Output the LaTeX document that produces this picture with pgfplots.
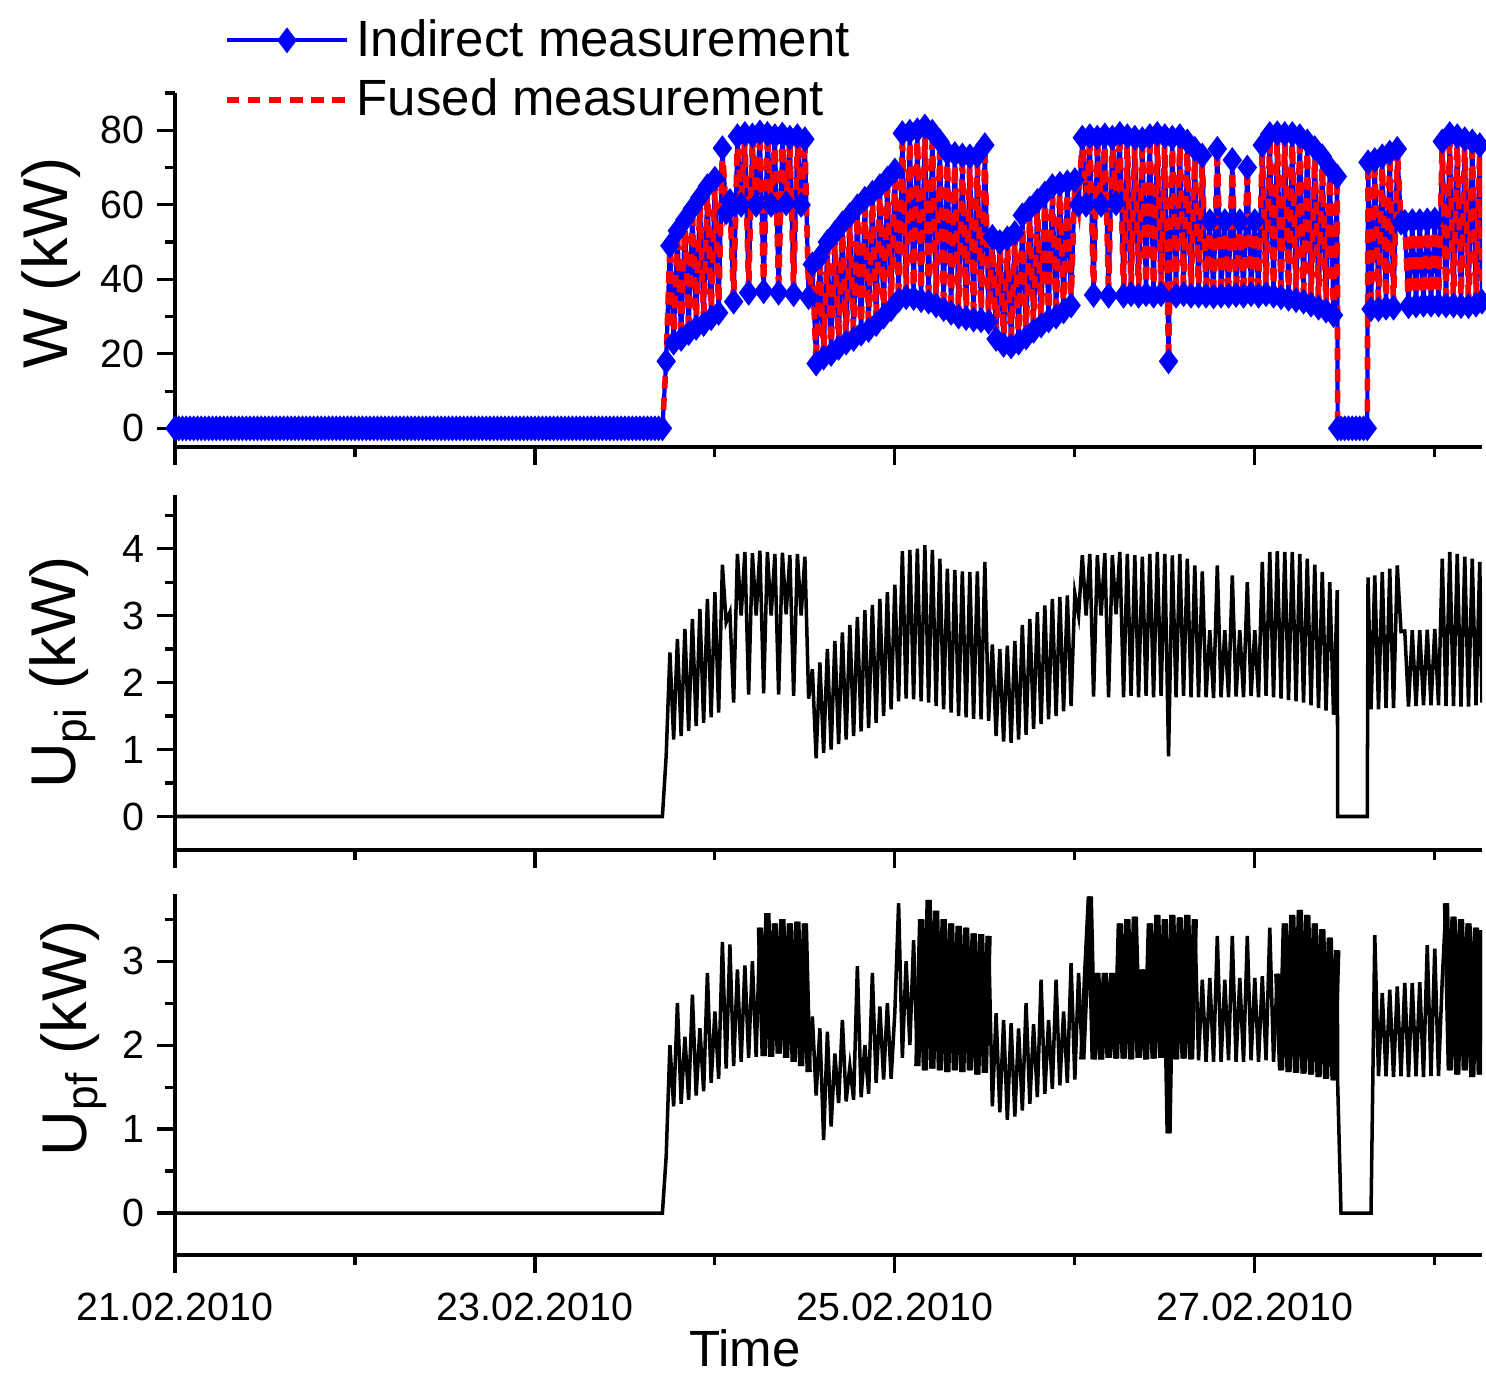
\documentclass[border=0pt]{standalone}
\usepackage{fontspec}
\setmainfont{Liberation Sans}
\usepackage{pgfplots}
\usepackage{pgfplotstable}
\pgfplotsset{compat=1.18}

\pgfplotstableread[row sep=\\]{
t W P Q\\
0 0 0 0\\ 0.5 0 0 0\\ 1 0 0 0\\ 1.5 0 0 0\\ 2 0 0 0\\ 2.5 0 0 0\\ 3 0 0 0\\ 3.5 0 0 0\\ 4 0 0 0\\ 4.5 0 0 0\\
5 0 0 0\\ 5.5 0 0 0\\ 6 0 0 0\\ 6.5 0 0 0\\ 7 0 0 0\\ 7.5 0 0 0\\ 8 0 0 0\\ 8.5 0 0 0\\ 9 0 0 0\\ 9.5 0 0 0\\
10 0 0 0\\ 10.5 0 0 0\\ 11 0 0 0\\ 11.5 0 0 0\\ 12 0 0 0\\ 12.5 0 0 0\\ 13 0 0 0\\ 13.5 0 0 0\\ 14 0 0 0\\ 14.5 0 0 0\\
15 0 0 0\\ 15.5 0 0 0\\ 16 0 0 0\\ 16.5 0 0 0\\ 17 0 0 0\\ 17.5 0 0 0\\ 18 0 0 0\\ 18.5 0 0 0\\ 19 0 0 0\\ 19.5 0 0 0\\
20 0 0 0\\ 20.5 0 0 0\\ 21 0 0 0\\ 21.5 0 0 0\\ 22 0 0 0\\ 22.5 0 0 0\\ 23 0 0 0\\ 23.5 0 0 0\\ 24 0 0 0\\ 24.5 0 0 0\\
25 0 0 0\\ 25.5 0 0 0\\ 26 0 0 0\\ 26.5 0 0 0\\ 27 0 0 0\\ 27.5 0 0 0\\ 28 0 0 0\\ 28.5 0 0 0\\ 29 0 0 0\\ 29.5 0 0 0\\
30 0 0 0\\ 30.5 0 0 0\\ 31 0 0 0\\ 31.5 0 0 0\\ 32 0 0 0\\ 32.5 0 0 0\\ 33 0 0 0\\ 33.5 0 0 0\\ 34 0 0 0\\ 34.5 0 0 0\\
35 0 0 0\\ 35.5 0 0 0\\ 36 0 0 0\\ 36.5 0 0 0\\ 37 0 0 0\\ 37.5 0 0 0\\ 38 0 0 0\\ 38.5 0 0 0\\ 39 0 0 0\\ 39.5 0 0 0\\
40 0 0 0\\ 40.5 0 0 0\\ 41 0 0 0\\ 41.5 0 0 0\\ 42 0 0 0\\ 42.5 0 0 0\\ 43 0 0 0\\ 43.5 0 0 0\\ 44 0 0 0\\ 44.5 0 0 0\\
45 0 0 0\\ 45.5 0 0 0\\ 46 0 0 0\\ 46.5 0 0 0\\ 47 0 0 0\\ 47.5 0 0 0\\ 48 0 0 0\\ 48.5 0 0 0\\ 49 0 0 0\\ 49.5 0 0 0\\
50 0 0 0\\ 50.5 0 0 0\\ 51 0 0 0\\ 51.5 0 0 0\\ 52 0 0 0\\ 52.5 0 0 0\\ 53 0 0 0\\ 53.5 0 0 0\\ 54 0 0 0\\ 54.5 0 0 0\\
55 0 0 0\\ 55.5 0 0 0\\ 56 0 0 0\\ 56.5 0 0 0\\ 57 0 0 0\\ 57.5 0 0 0\\ 58 0 0 0\\ 58.5 0 0 0\\ 59 0 0 0\\ 59.5 0 0 0\\
60 0 0 0\\ 60.5 0 0 0\\ 61 0 0 0\\ 61.5 0 0 0\\ 62 0 0 0\\ 62.5 0 0 0\\ 63 0 0 0\\ 63.5 0 0 0\\ 64 0 0 0\\ 64.5 0 0 0\\
65 0 0 0\\
65.5 18 0.9 0.67\\ 66 49 2.45 2.0\\ 66.5 23 1.15 1.27\\ 67 53 2.65 2.5\\ 67.5 24 1.2 1.3\\
68 56 2.8 2.1\\ 68.5 25.6 1.28 1.35\\ 69 59 2.95 2.6\\ 69.5 27 1.35 1.4\\ 70 62 3.1 2.2\\
70.5 28 1.4 1.45\\ 71 65 3.25 2.86\\ 71.5 29.6 1.48 1.55\\ 72 67 3.35 2.4\\ 72.5 31 1.55 1.6\\
73 75.2 3.76 3.23\\ 73.5 58 2.9 1.72\\ 74 61 3.05 3.2\\ 74.5 34 1.7 1.75\\ 75 78.4 3.92 2.9\\
75.5 60 3.0 1.8\\ 76 79 3.95 2.95\\ 76.5 36.4 1.82 1.85\\ 77 78.6 3.93 3.0\\ 77.5 60 3.0 1.86\\
78 79.4 3.97 3.4\\ 78.5 36.8 1.84 1.87\\ 79 79 3.95 3.57\\ 79.5 60 3.0 1.86\\ 80 78.4 3.92 3.45\\
80.5 36.4 1.82 1.9\\ 81 78.8 3.94 3.5\\ 81.5 60.4 3.02 1.85\\ 82 78 3.9 3.45\\ 82.5 36 1.8 1.8\\
83 78.4 3.92 3.47\\ 83.5 60 3.0 1.75\\ 84 77.6 3.88 3.45\\ 84.5 35.2 1.76 1.68\\ 85 44 2.2 2.34\\
85.5 17.4 0.87 1.4\\ 86 46 2.3 2.2\\ 86.5 19 0.95 0.87\\ 87 50 2.5 2.16\\ 87.5 20 1.0 1.03\\
88 52.4 2.62 1.9\\ 88.5 21.6 1.08 1.31\\ 89 55 2.75 2.3\\ 89.5 23 1.15 1.33\\ 90 57.2 2.86 1.75\\
90.5 24 1.2 1.35\\ 91 59.6 2.98 2.94\\ 91.5 25.4 1.27 1.38\\ 92 61.6 3.08 2.0\\ 92.5 26.4 1.32 1.42\\
93 63.2 3.16 2.86\\ 93.5 28 1.4 1.55\\ 94 65 3.25 2.46\\ 94.5 30 1.5 1.59\\ 95 67 3.35 2.5\\
95.5 32 1.6 1.6\\ 96 69.2 3.46 2.4\\ 96.5 34.4 1.72 3.69\\ 97 79.2 3.96 1.85\\ 97.5 35.2 1.76 3.0\\
98 79.6 3.98 2.0\\ 98.5 35 1.75 3.25\\ 99 80 4.0 1.75\\ 99.5 34.4 1.72 3.5\\ 100 81 4.05 1.7\\
100.5 34 1.7 3.73\\ 101 79.6 3.98 1.72\\ 101.5 33 1.65 3.6\\ 102 77 3.85 1.7\\ 102.5 32 1.6 3.5\\
103 74 3.7 1.68\\ 103.5 31 1.55 3.45\\ 104 73.6 3.68 1.7\\ 104.5 30 1.5 3.42\\ 105 73.2 3.66 1.68\\
105.5 29.6 1.48 3.4\\ 106 73 3.65 1.7\\ 106.5 29.2 1.46 3.33\\ 107 73.2 3.66 1.65\\ 107.5 29 1.45 3.32\\
108 76 3.8 1.67\\ 108.5 28.6 1.43 3.3\\ 109 51.4 2.57 1.27\\ 109.5 24 1.2 2.38\\ 110 50 2.5 1.2\\
110.5 22.4 1.12 2.3\\ 111 51 2.55 1.11\\ 111.5 22 1.1 2.26\\ 112 52.4 2.62 1.15\\ 112.5 23 1.15 2.2\\
113 57.2 2.86 1.22\\ 113.5 24.4 1.22 2.5\\ 114 59 2.95 1.3\\ 114.5 26.2 1.31 2.25\\ 115 61 3.05 1.38\\
115.5 27.6 1.38 2.78\\ 116 63 3.15 1.42\\ 116.5 29 1.45 2.3\\ 117 65 3.25 1.48\\ 117.5 30 1.5 2.78\\
118 65.6 3.28 1.52\\ 118.5 31.4 1.57 2.4\\ 119 66 3.3 1.55\\ 119.5 33 1.65 2.98\\ 120 66.6 3.33 1.59\\
120.5 60 3.0 2.86\\ 121 78 3.9 1.83\\ 121.5 60 3.0 2.86\\ 122 78.4 3.92 3.77\\ 122.5 35.8 1.79 1.83\\
123 78 3.9 2.86\\ 123.5 60 3.0 1.83\\ 124 78.6 3.93 2.86\\ 124.5 35.6 1.78 1.85\\ 125 78 3.9 2.86\\
125.5 60.4 3.02 1.84\\ 126 79 3.95 3.45\\ 126.5 35.6 1.78 1.84\\ 127 78.4 3.92 3.5\\ 127.5 36 1.8 1.83\\
128 78 3.9 3.53\\ 128.5 35.6 1.78 1.85\\ 129 77.6 3.88 2.9\\ 129.5 36 1.8 1.83\\ 130 78.4 3.92 3.45\\
130.5 35.6 1.78 1.84\\ 131 79 3.95 3.55\\ 131.5 36 1.8 1.85\\ 132 78.4 3.92 3.5\\ 132.5 18 0.9 0.95\\
133 78 3.9 3.55\\ 133.5 35.6 1.78 1.83\\ 134 78.4 3.92 3.52\\ 134.5 36 1.8 1.84\\ 135 77 3.85 3.55\\
135.5 35.6 1.78 1.83\\ 136 75 3.75 3.5\\ 136.5 35.6 1.78 1.82\\ 137 73.2 3.66 2.78\\ 137.5 35.6 1.78 1.8\\
138 55.6 2.78 2.8\\ 138.5 35.4 1.77 1.8\\ 139 75 3.75 3.3\\ 139.5 35.6 1.78 1.8\\ 140 55.6 2.78 2.78\\
140.5 35.6 1.78 1.82\\ 141 72 3.6 3.3\\ 141.5 35.8 1.79 1.8\\ 142 55.6 2.78 2.8\\ 142.5 35.6 1.78 1.8\\
143 70 3.5 3.3\\ 143.5 36 1.8 1.82\\ 144 55.6 2.78 2.8\\ 144.5 35.6 1.78 1.8\\ 145 76 3.8 2.82\\
145.5 36 1.8 1.82\\ 146 79 3.95 3.4\\ 146.5 35.6 1.78 1.8\\ 147 79.2 3.96 2.85\\ 147.5 35.2 1.76 1.7\\
148 79 3.95 3.45\\ 148.5 34.8 1.74 1.68\\ 149 79 3.95 3.55\\ 149.5 34.4 1.72 1.67\\ 150 78.4 3.92 3.61\\
150.5 34 1.7 1.66\\ 151 77 3.85 3.55\\ 151.5 33.2 1.66 1.65\\ 152 75.2 3.76 3.45\\ 152.5 32.4 1.62 1.62\\
153 73 3.65 3.38\\ 153.5 31.6 1.58 1.6\\ 154 70 3.5 3.28\\ 154.5 30.4 1.52 1.58\\ 155 67.6 3.38 3.13\\
155.05 0 0 1.55\\ 155.5 0 0 0\\ 156 0 0 0\\ 156.5 0 0 0\\ 157 0 0 0\\ 157.5 0 0 0\\ 158 0 0 0\\
158.5 0 0 0\\ 159 0 0 0\\ 159.1 71.4 3.57 0\\ 159.5 32 1.6 0\\ 160 72 3.6 3.31\\
160.5 32 1.6 1.63\\ 161 73 3.65 2.62\\ 161.5 32.4 1.62 1.63\\ 162 74 3.7 2.66\\ 162.5 32.4 1.62 1.62\\
163 75 3.75 2.7\\ 163.5 55.2 2.76 1.63\\ 164 55.4 2.77 2.74\\ 164.5 32.8 1.64 1.62\\ 165 55.6 2.78 2.74\\
165.5 33 1.65 1.63\\ 166 55.6 2.78 2.75\\ 166.5 33.2 1.66 1.62\\ 167 55.8 2.79 3.19\\ 167.5 33.2 1.66 1.63\\
168 56 2.8 3.15\\ 168.5 33.2 1.66 1.63\\ 169 77 3.85 2.78\\ 169.5 33 1.65 3.69\\ 170 79 3.95 1.7\\
170.5 33 1.65 3.53\\ 171 78.4 3.92 1.65\\ 171.5 32.8 1.64 3.5\\ 172 77.6 3.88 1.7\\ 172.5 32.8 1.64 3.45\\
173 77 3.85 1.62\\ 173.5 33.2 1.66 3.4\\ 174 76 3.8 1.65\\ 174.3 34 1.7 3.37\\
}\datatable

\pgfplotsset{
  panel/.style={
    scale only axis, width=130.7mm,
    xmin=0, xmax=174.3,
    axis x line=bottom, axis y line=left,
    axis line style={-, line width=0.9pt},
    xtick={0,48,96,144}, minor xtick={24,72,120,168},
    tick align=outside, major tick length=1.8mm, minor tick length=1.0mm,
    every tick/.style={black, line width=0.9pt},
    tick label style={font=\fontsize{11.2}{13}\selectfont},
    /pgf/number format/assume math mode=true,
    every axis y label/.style={rotate=90, anchor=base, font=\fontsize{18}{21}\selectfont},
  }
}

\begin{document}
\begin{tikzpicture}
\path[use as bounding box] (-17.5mm,-137.5mm) rectangle (131.1mm,0mm);

% Panel 1: W
\begin{axis}[panel, at={(0mm,-44.7mm)}, anchor=south west, height=35.4mm,
  ymin=-5, ymax=90, ytick={0,20,40,60,80}, minor ytick={10,30,50,70,90},
  xticklabels={},
  ylabel={W (kW)},
  ylabel style={at={(axis description cs:-0.0819,0.52)}},
  legend style={at={(axis description cs:0.029,1.25)}, anchor=north west, draw=none, fill=none,
    font=\fontsize{14.5}{17}\selectfont, row sep=1pt},
  legend cell align=left,
  legend image code/.code={\draw[mark repeat=2,mark phase=2,#1] plot coordinates {(0mm,0mm) (6mm,0mm) (12mm,0mm)};},
]
\addplot[blue, line width=1.2pt, mark=diamond*, mark size=2.7pt, mark options={solid, fill=blue}] table[x=t,y=W]{\datatable};
\addplot[red, line width=1.6pt, dash pattern=on 3.5pt off 2.5pt] table[x=t,y=W]{\datatable};
\legend{Indirect measurement, Fused measurement}
\end{axis}

% Panel 2: Upi
\begin{axis}[panel, at={(0mm,-85.0mm)}, anchor=south west, height=35.5mm,
  ymin=-0.5, ymax=4.8, ytick={0,1,2,3,4}, minor ytick={0.5,1.5,2.5,3.5,4.5},
  xticklabels={},
  ylabel={U\textsubscript{pi} (kW)},
  ylabel style={at={(axis description cs:-0.0765,0.5)}},
]
\addplot[black, line width=1.0pt] table[x=t,y=P]{\datatable};
\end{axis}

% Panel 3: Upf
\begin{axis}[panel, at={(0mm,-125.5mm)}, anchor=south west, height=36.1mm,
  ymin=-0.5, ymax=3.8, ytick={0,1,2,3}, minor ytick={0.5,1.5,2.5,3.5},
  xticklabels={21.02.2010,23.02.2010,25.02.2010,27.02.2010},
  xticklabel style={yshift=-0.8mm},
  ylabel={U\textsubscript{pf} (kW)},
  ylabel style={at={(axis description cs:-0.068,0.6)}},
  xlabel={Time},
  xlabel style={at={(axis description cs:0.436,-0.31)}, anchor=base, font=\fontsize{14.5}{17}\selectfont},
]
\addplot[black, line width=1.0pt] table[x=t,y=Q]{\datatable};
\addplot[black, line width=1.8pt, restrict x to domain=78:84.5] table[x=t,y=Q]{\datatable};
\addplot[black, line width=1.8pt, restrict x to domain=99:108.5] table[x=t,y=Q]{\datatable};
\addplot[black, line width=1.8pt, restrict x to domain=121:136] table[x=t,y=Q]{\datatable};
\addplot[black, line width=1.8pt, restrict x to domain=147:155] table[x=t,y=Q]{\datatable};
\addplot[black, line width=1.8pt, restrict x to domain=169.5:174.3] table[x=t,y=Q]{\datatable};
\end{axis}
\end{tikzpicture}
\end{document}
